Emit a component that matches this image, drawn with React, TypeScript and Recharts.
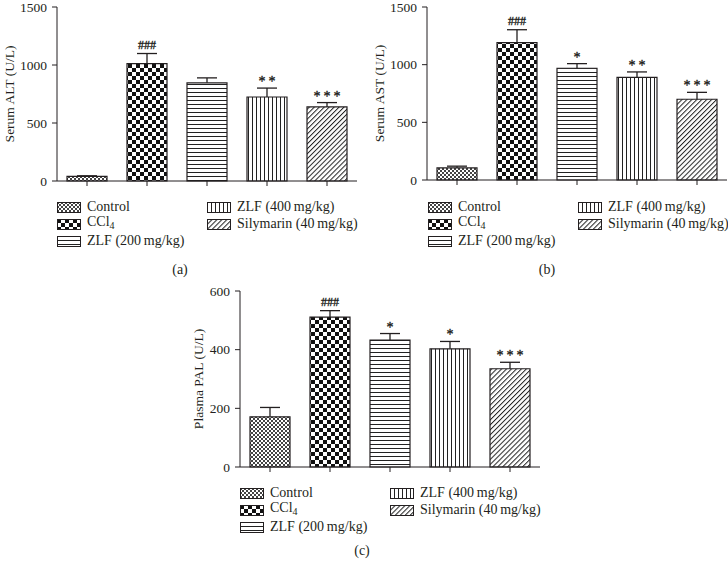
import { BarChart, Bar, XAxis, YAxis, Cell, LabelList, Label } from 'recharts';

// groups, in plotting order
const categories = ['Control', 'CCl4', 'ZLF (200\u2009mg/kg)', 'ZLF (400\u2009mg/kg)', 'Silymarin (40\u2009mg/kg)'];
const patternIds = ['pat-control', 'pat-ccl4', 'pat-zlf200', 'pat-zlf400', 'pat-sily'];

// (a) serum ALT
const altMean = [40, 1011, 846, 724, 639];
const altErr = [5, 88, 43, 77, 37];
const altSig = ['', '###', '', '**', '***'];
const altTicks = [0, 500, 1000, 1500];

// (b) serum AST
const astMean = [105, 1191, 969, 889, 700];
const astErr = [15, 112, 40, 48, 60];
const astSig = ['', '###', '*', '**', '***'];
const astTicks = [0, 500, 1000, 1500];

// (c) plasma PAL
const palMean = [171, 511, 433, 403, 335];
const palErr = [32, 22, 22, 25, 22];
const palSig = ['', '###', '*', '*', '***'];
const palTicks = [0, 200, 400, 600];

const FONT = '"Liberation Serif", "DejaVu Serif", serif';
const INK = '#231f20';

function buildRows(mean: number[], err: number[], sig: string[]) {
  return categories.map((name, i) => ({ name, mean: mean[i], err: err[i], sig: sig[i] }));
}

function Patterns() {
  return (
    <svg width={0} height={0} style={{ position: 'absolute' }}>
      <defs>
        <pattern id="pat-control" width={4} height={4} patternUnits="userSpaceOnUse">
          <rect width={4} height={4} fill="#fff" />
          <rect width={2} height={2} fill="#444" />
          <rect x={2} y={2} width={2} height={2} fill="#444" />
        </pattern>
        <pattern id="pat-ccl4" width={8} height={8} patternUnits="userSpaceOnUse">
          <rect width={8} height={8} fill="#fff" />
          <rect width={4} height={4} fill="#111" />
          <rect x={4} y={4} width={4} height={4} fill="#111" />
        </pattern>
        <pattern id="pat-zlf200" width={4} height={4} patternUnits="userSpaceOnUse">
          <rect width={4} height={4} fill="#fff" />
          <rect width={4} height={1} fill="#222" />
        </pattern>
        <pattern id="pat-zlf400" width={4} height={4} patternUnits="userSpaceOnUse">
          <rect width={4} height={4} fill="#fff" />
          <rect width={1} height={4} fill="#222" />
        </pattern>
        <pattern id="pat-sily" width={3.5} height={3.5} patternUnits="userSpaceOnUse" patternTransform="rotate(45)">
          <rect width={3.5} height={3.5} fill="#fff" />
          <rect width={1} height={3.5} fill="#222" />
        </pattern>
      </defs>
    </svg>
  );
}

const Whisker = (props: any) => {
  const { x, y, width, height } = props;
  const cx = x + width / 2;
  return (
    <g>
      <line x1={cx} x2={cx} y1={y + height} y2={y} stroke={INK} strokeWidth={1.3} />
      <line x1={cx - 10} x2={cx + 10} y1={y} y2={y} stroke={INK} strokeWidth={1.3} />
    </g>
  );
};

const SigLabel = (props: any) => {
  const { x, y, width, value } = props;
  if (!value) return null;
  const hash = String(value).startsWith('#');
  return (
    <text
      x={x + width / 2 + (hash ? 0 : 1.5)}
      y={y - (hash ? 5 : 2)}
      textAnchor="middle"
      fontFamily={FONT}
      fontSize={hash ? 12 : 14}
      letterSpacing={hash ? 0 : 3}
      fill={INK}
      stroke={INK}
      strokeWidth={0.35}
    >
      {value}
    </text>
  );
};

function yTitle(text: string, dx: number) {
  return (props: any) => {
    const vb = props.viewBox;
    const cx = vb.x + vb.width - dx;
    const cy = vb.y + vb.height / 2;
    return (
      <text
        x={cx}
        y={cy}
        transform={`rotate(-90 ${cx} ${cy})`}
        textAnchor="middle"
        dominantBaseline="central"
        fontFamily={FONT}
        fontSize={13.5}
        fill={INK}
      >
        {text}
      </text>
    );
  };
}

type PanelProps = {
  left: number;
  top: number;
  width: number;
  height: number;
  topMargin: number;
  rightMargin: number;
  rows: ReturnType<typeof buildRows>;
  ticks: number[];
  title: string;
  titleDx: number;
};

function Panel({ left, top, width, height, topMargin, rightMargin, rows, ticks, title, titleDx }: PanelProps) {
  return (
    <div style={{ position: 'absolute', left, top }}>
      <BarChart width={width} height={height} data={rows} margin={{ top: topMargin, right: rightMargin, left: 0, bottom: 0 }}>
        <XAxis
          dataKey="name"
          interval={0}
          height={10}
          tickSize={5}
          tickFormatter={() => ''}
          axisLine={{ stroke: INK }}
          tickLine={{ stroke: INK }}
        />
        <YAxis
          width={57}
          domain={[ticks[0], ticks[ticks.length - 1]]}
          ticks={ticks}
          interval={0}
          tickSize={5}
          tickMargin={5}
          axisLine={{ stroke: INK }}
          tickLine={{ stroke: INK }}
          tick={{ fontSize: 13.5, fontFamily: FONT, fill: INK }}
        >
          <Label content={yTitle(title, titleDx)} />
        </YAxis>
        <Bar dataKey="mean" stackId="s" barSize={40} stroke={INK} strokeWidth={1.2} isAnimationActive={false}>
          {rows.map((r, i) => (
            <Cell key={r.name} fill={`url(#${patternIds[i]})`} />
          ))}
        </Bar>
        <Bar dataKey="err" stackId="s" barSize={40} fill="none" shape={Whisker} isAnimationActive={false}>
          <LabelList dataKey="sig" content={SigLabel} />
        </Bar>
      </BarChart>
    </div>
  );
}

function LegendName({ name }: { name: string }) {
  if (name === 'CCl4') {
    return (
      <span>
        CCl<sub style={{ fontSize: 10, verticalAlign: '-3px' }}>4</sub>
      </span>
    );
  }
  return <span>{name}</span>;
}

function GroupLegend({ left, top, step }: { left: number; top: number; step: number }) {
  const slots = [
    [0, 0],
    [0, 1],
    [0, 2],
    [1, 0],
    [1, 1],
  ];
  return (
    <>
      {categories.map((name, i) => {
        const [col, row] = slots[i];
        return (
          <div
            key={name}
            style={{
              position: 'absolute',
              left: left + col * 150,
              top: top + row * step - 8,
              height: 16,
              display: 'flex',
              alignItems: 'center',
              whiteSpace: 'nowrap',
              fontFamily: FONT,
              fontSize: 14,
              color: INK,
              lineHeight: '16px',
            }}
          >
            <svg width={24} height={11} style={{ marginRight: 6, display: 'block' }}>
              <rect x={0.5} y={0.5} width={23} height={10} fill={`url(#${patternIds[i]})`} stroke={INK} strokeWidth={1} />
            </svg>
            <LegendName name={name} />
          </div>
        );
      })}
    </>
  );
}

function Caption({ x, y, text }: { x: number; y: number; text: string }) {
  return (
    <div
      style={{
        position: 'absolute',
        left: x - 20,
        top: y - 9,
        width: 40,
        textAlign: 'center',
        fontFamily: FONT,
        fontSize: 14,
        color: INK,
        lineHeight: '18px',
      }}
    >
      {text}
    </div>
  );
}

export default function App() {
  return (
    <div style={{ position: 'absolute', left: 0, top: 0, width: 728, height: 572, background: '#fff', overflow: 'hidden' }}>
      <Patterns />
      <Panel
        left={0}
        top={0}
        width={364}
        height={191}
        topMargin={7}
        rightMargin={7}
        rows={buildRows(altMean, altErr, altSig)}
        ticks={altTicks}
        title="Serum ALT (U/L)"
        titleDx={48}
      />
      <GroupLegend left={57} top={207} step={17} />
      <Caption x={180} y={270} text="(a)" />

      <Panel
        left={370}
        top={0}
        width={358}
        height={190}
        topMargin={7}
        rightMargin={1}
        rows={buildRows(astMean, astErr, astSig)}
        ticks={astTicks}
        title="Serum AST (U/L)"
        titleDx={48}
      />
      <GroupLegend left={428} top={207} step={17} />
      <Caption x={547} y={270} text="(b)" />

      <Panel
        left={183}
        top={276}
        width={359}
        height={201}
        topMargin={15}
        rightMargin={2}
        rows={buildRows(palMean, palErr, palSig)}
        ticks={palTicks}
        title="Plasma PAL (U/L)"
        titleDx={42}
      />
      <GroupLegend left={240} top={493} step={17} />
      <Caption x={362} y={551} text="(c)" />
    </div>
  );
}
